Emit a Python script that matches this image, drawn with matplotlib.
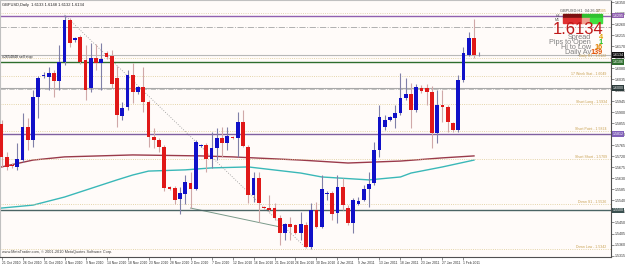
import numpy as np
import pandas as pd
import matplotlib
matplotlib.use('Agg')
import matplotlib.pyplot as plt

# GBPUSD daily bars (MT4 style, Sunday bars included)
dates = [d for d in pd.date_range('2010-10-21', '2011-02-04') if d.weekday() != 5]

opens = [1.5853, 1.5718, 1.5685, 1.5677, 1.5705, 1.5840, 1.5787, 1.5963, 1.6049, 1.6045,
         1.6061, 1.6028, 1.6106, 1.6278, 1.6196, 1.6208, 1.6114, 1.6000, 1.6122, 1.6102,
         1.6143, 1.6130, 1.6041, 1.5885, 1.5922, 1.6053, 1.5983, 1.6004, 1.5942, 1.5799,
         1.5787, 1.5759, 1.5595, 1.5591, 1.5546, 1.5566, 1.5611, 1.5587, 1.5763, 1.5767,
         1.5709, 1.5754, 1.5795, 1.5775, 1.5799, 1.5795, 1.5861, 1.5759, 1.5562, 1.5632,
         1.5513, 1.5509, 1.5509, 1.5468, 1.5407, 1.5444, 1.5440, 1.5407, 1.5440, 1.5350,
         1.5501, 1.5432, 1.5566, 1.5571, 1.5489, 1.5595, 1.5509, 1.5448, 1.5526, 1.5542,
         1.5587, 1.5611, 1.5746, 1.5840, 1.5869, 1.5877, 1.5897, 1.5959, 1.5975, 1.5910,
         1.6000, 1.6000, 1.5983, 1.5816, 1.5930, 1.5922, 1.5857, 1.5828, 1.6032, 1.6135,
         1.6204, 1.6133]
highs = [1.5869, 1.5738, 1.5693, 1.5775, 1.5897, 1.5877, 1.5991, 1.6049, 1.6065, 1.6085,
         1.6073, 1.6175, 1.6298, 1.6286, 1.6208, 1.6216, 1.6175, 1.6184, 1.6179, 1.6184,
         1.6151, 1.6155, 1.6090, 1.5942, 1.6073, 1.6102, 1.6008, 1.6085, 1.5951, 1.5836,
         1.5795, 1.5767, 1.5599, 1.5599, 1.5595, 1.5644, 1.5656, 1.5787, 1.5771, 1.5775,
         1.5820, 1.5836, 1.5840, 1.5840, 1.5803, 1.5902, 1.5910, 1.5767, 1.5656, 1.5656,
         1.5517, 1.5562, 1.5530, 1.5480, 1.5448, 1.5472, 1.5444, 1.5493, 1.5452, 1.5530,
         1.5534, 1.5644, 1.5579, 1.5579, 1.5644, 1.5632, 1.5521, 1.5550, 1.5554, 1.5603,
         1.5656, 1.5779, 1.5930, 1.5889, 1.5885, 1.5930, 1.6061, 1.6041, 1.6020, 1.6016,
         1.6012, 1.6016, 1.6008, 1.5991, 1.5991, 1.5930, 1.5861, 1.6053, 1.6167, 1.6229,
         1.6282, 1.6148]
lows = [1.5677, 1.5665, 1.5673, 1.5665, 1.5697, 1.5746, 1.5759, 1.5877, 1.6041, 1.5991,
        1.5963, 1.5991, 1.6094, 1.6167, 1.6188, 1.6098, 1.5951, 1.5983, 1.6073, 1.5991,
        1.6118, 1.6000, 1.5840, 1.5869, 1.5910, 1.5938, 1.5975, 1.5902, 1.5759, 1.5754,
        1.5738, 1.5579, 1.5583, 1.5526, 1.5485, 1.5526, 1.5509, 1.5583, 1.5759, 1.5656,
        1.5673, 1.5705, 1.5718, 1.5746, 1.5791, 1.5718, 1.5759, 1.5530, 1.5534, 1.5452,
        1.5505, 1.5493, 1.5460, 1.5358, 1.5378, 1.5378, 1.5403, 1.5378, 1.5346, 1.5342,
        1.5427, 1.5427, 1.5542, 1.5460, 1.5448, 1.5501, 1.5440, 1.5407, 1.5521, 1.5538,
        1.5513, 1.5603, 1.5718, 1.5828, 1.5865, 1.5836, 1.5889, 1.5951, 1.5836, 1.5902,
        1.5979, 1.5930, 1.5754, 1.5775, 1.5861, 1.5820, 1.5820, 1.5820, 1.6024, 1.6130,
        1.6122, 1.6132]
closes = [1.5718, 1.5677, 1.5681, 1.5709, 1.5840, 1.5787, 1.5963, 1.6041, 1.6053, 1.6061,
          1.6028, 1.6106, 1.6278, 1.6184, 1.6204, 1.6106, 1.5991, 1.6122, 1.6102, 1.6118,
          1.6126, 1.6016, 1.5889, 1.5918, 1.6053, 1.5983, 1.6004, 1.5942, 1.5799, 1.5787,
          1.5759, 1.5591, 1.5587, 1.5542, 1.5571, 1.5615, 1.5587, 1.5779, 1.5767, 1.5709,
          1.5754, 1.5795, 1.5775, 1.5803, 1.5795, 1.5861, 1.5763, 1.5562, 1.5632, 1.5530,
          1.5509, 1.5501, 1.5468, 1.5407, 1.5444, 1.5432, 1.5407, 1.5444, 1.5350, 1.5501,
          1.5432, 1.5587, 1.5571, 1.5485, 1.5595, 1.5521, 1.5448, 1.5542, 1.5538, 1.5587,
          1.5607, 1.5746, 1.5881, 1.5869, 1.5881, 1.5897, 1.5959, 1.5975, 1.5910, 1.6004,
          1.5987, 1.5983, 1.5816, 1.5930, 1.5922, 1.5861, 1.5828, 1.6032, 1.6143, 1.6204,
          1.6135, 1.6134]

# moving averages, read at a few bars
ma_slow_bars = [0, 6, 12, 25, 38, 44, 57, 66, 76, 84, 90]
ma_slow = [1.5677, 1.5705, 1.5718, 1.5726, 1.5722, 1.5718, 1.5705, 1.5693, 1.5701, 1.5714, 1.5722]
ma_fast_bars = [0, 6, 12, 19, 22, 25, 28, 35, 40, 47, 57, 61, 70, 76, 78, 84, 90]
ma_fast = [1.5509, 1.5521, 1.5554, 1.5603, 1.5624, 1.5644, 1.5660, 1.5665, 1.5673, 1.5677,
           1.5652, 1.5636, 1.5624, 1.5636, 1.5652, 1.5677, 1.5705]

# pivot style levels (tan dotted with names)
level_names = ['Daily R1', '17 Week Stat', 'Short Long', 'Short Point', 'Short Short', 'Down S1', 'Down Low']
level_values = [1.6122, 1.6049, 1.5934, 1.5824, 1.5709, 1.5526, 1.5342]

bid = 1.6134
title = 'GBPUSD,Daily  1.6133 1.6148 1.6132 1.6134'

plt.rcParams['font.family'] = ['Liberation Sans', 'DejaVu Sans']

fig = plt.figure(figsize=(6.25, 2.66), dpi=100)
ax = fig.add_axes([0, 9 / 266, 611 / 625, 257 / 266])
ax.set_facecolor('#fffbf9')

x = np.arange(len(opens))
o = np.array(opens); h = np.array(highs); l = np.array(lows); c = np.array(closes)
up = c >= o
ax.vlines(x, l, h, colors=np.where(up, '#8080a8', '#d0a8a8'), linewidth=0.8, zorder=3)
body = np.maximum(np.abs(c - o), 0.00012)
ax.bar(x, body, bottom=np.minimum(o, c), width=0.72,
       color=np.where(up, '#1010c8', '#e01818'), zorder=4)

ax.plot(ma_slow_bars, ma_slow, color='#9a3a4a', lw=1.0, zorder=2)
ax.plot(ma_fast_bars, ma_fast, color='#3ab8b8', lw=1.0, zorder=2)

# trend lines
ax.plot([12, 58], [highs[12], lows[58]], color='#909090', lw=0.6, ls=(0, (1, 2)), zorder=2)
ax.plot([36, 53], [lows[36], 1.5432], color='#7a9a8a', lw=0.7, zorder=2)

# horizontal lines
ax.axhline(1.6306, color='#d8c8a0', lw=0.6, ls=':')
ax.text(0.993, 1.6306, '1.6305', transform=ax.get_yaxis_transform(),
        ha='right', va='bottom', fontsize=2.5, color='#c8a050')
ax.axhline(1.6295, color='#9060b0', lw=1.0)
ax.axhline(1.6249, color='#b0b0b0', lw=0.7, ls='-.')
ax.axhline(bid, color='#b8b8b8', lw=0.8)
ax.axhline(1.6106, color='#2e6e2e', lw=1.0)
ax.axhline(1.6000, color='#a8a8a8', lw=0.8)
ax.axhline(1.5994, color='#b8b8b8', lw=0.6, ls='-.')
ax.axhline(1.5812, color='#8060a0', lw=1.0)
ax.axhline(1.5500, color='#4a6464', lw=1.0)
for name, v in zip(level_names, level_values):
    ax.axhline(v, color='#dcc890', lw=0.6, ls=':')
    ax.text(0.993, v, f'{name} - {v:.4f}', transform=ax.get_yaxis_transform(),
            ha='right', va='bottom', fontsize=2.5, color='#c8a050')

ax.text(0.003, bid, '#2654848 sell stop', transform=ax.get_yaxis_transform(),
        ha='left', va='top', fontsize=2.6, color='#202020')

ax.set_xlim(-0.29, 116.1)
ax.set_ylim(1.5309, 1.6359)

ticks = np.arange(1.5315, 1.6352, 0.0045)
ax.yaxis.tick_right()
ax.set_yticks(ticks)
ax.set_yticklabels([f'{t:.4f}' for t in ticks], fontsize=2.6)
xt = list(range(0, len(dates), 4))
ax.set_xticks(xt)
ax.set_xticklabels([f'{dates[i].day} {dates[i]:%b %Y}' for i in xt], fontsize=2.4, ha='left')
ax.tick_params(length=2, width=0.5, pad=1, colors='#606060', labelcolor='#303030')

for side in ['left', 'top']:
    ax.spines[side].set_color('#c0c0c0')
for side in ['right', 'bottom']:
    ax.spines[side].set_color('#505050')

# price boxes on the right scale
for v, col in [(1.6295, '#9060b0'), (bid, '#101010'), (1.6106, '#2e6e2e'),
               (1.6000, '#2a3a3a'), (1.5812, '#8060b8'), (1.5500, '#3a5050')]:
    ax.annotate(f'{v:.4f}', xy=(1, v), xycoords=('axes fraction', 'data'),
                xytext=(1.2, 0), textcoords='offset points', ha='left', va='center',
                fontsize=2.6, color='white',
                bbox=dict(boxstyle='square,pad=0.2', fc=col, ec='none'))

ax.text(0.003, 0.988, title, transform=ax.transAxes, fontsize=2.9, color='#202020', va='top')
ax.text(0.003, 0.012, 'www.MetaTrader.com, \u00a9 2001-2010 MetaQuotes Software Corp.',
        transform=ax.transAxes, fontsize=2.8, color='#404040', va='bottom')

# info panel
def fx(px):
    return px / 625

def fy(py):
    return 1 - py / 266

fig.text(fx(600), fy(11), 'GBPUSD:H1  04:26:37', fontsize=2.8, color='#505050', ha='right', va='center')
fig.patches.append(plt.Rectangle((fx(563), fy(18)), fx(19), 4 / 266, color='#7a1010', transform=fig.transFigure))
fig.patches.append(plt.Rectangle((fx(582), fy(18)), fx(20), 4 / 266, color='#30c030', transform=fig.transFigure))
fig.patches.append(plt.Rectangle((fx(563), fy(23)), fx(19), 5 / 266, color='#e03030', transform=fig.transFigure))
fig.patches.append(plt.Rectangle((fx(582), fy(23)), fx(8), 5 / 266, color='#f0a090', transform=fig.transFigure))
fig.patches.append(plt.Rectangle((fx(590), fy(23)), fx(12), 5 / 266, color='#40e040', transform=fig.transFigure))
fig.text(fx(560), fy(16), 'H4', fontsize=2.6, color='#505050', ha='right', va='center')
fig.text(fx(560), fy(20), 'M1', fontsize=2.6, color='#505050', ha='right', va='center')
fig.text(fx(603), fy(30), f'{bid:.4f}', fontsize=12, color='#c01818', ha='right', va='center')
info_labels = ['Spread', 'Pips to Open', 'Hi to Low', 'Daily Av']
info_values = ['4', '1', '16', '139']
info_colors = ['#e0a000', '#20c020', '#e08000', '#e05000']
for i, (lab, val, col) in enumerate(zip(info_labels, info_values, info_colors)):
    yy = 38 + i * 4.8
    fig.text(fx(591), fy(yy), lab, fontsize=5.2, color='#808080', ha='right', va='center')
    fig.text(fx(603), fy(yy), val, fontsize=5.2, color=col, ha='right', va='center',
             weight='bold')

fig.savefig('out.png', dpi=100, facecolor='white')
